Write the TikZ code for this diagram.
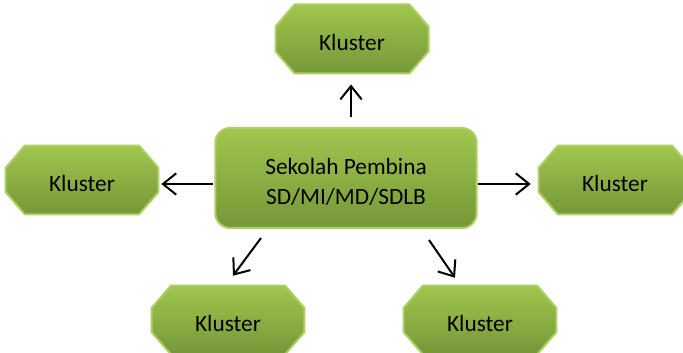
\documentclass[tikz,border=0pt]{standalone}
\usepackage{fontspec}
\setmainfont{Carlito}
\usetikzlibrary{arrows.meta,calc,backgrounds}

\definecolor{klTop}{RGB}{160,198,78}
\definecolor{klBot}{RGB}{118,151,56}
\definecolor{klRim}{RGB}{172,208,100}

\tikzset{every picture/.style={line width=0.75pt}}
\tikzset{
  kluster/.style={minimum width=114pt, minimum height=51pt, inner sep=0pt, text height=17pt,
    font=\fontsize{17.5}{21}\selectfont},
  klbody/.style={draw=klRim, line width=1.5pt, top color=klTop, bottom color=klBot},
  pembina/.style={klbody, rounded corners=11pt,
    minimum width=196pt, minimum height=75pt, align=center,
    font=\fontsize{17.5}{22}\selectfont},
  panah/.style={-{Straight Barb[length=10pt,width=16pt]}, line width=1.5pt}
}
% octagon behind a kluster node
\newcommand{\oktagon}[1]{%
  \begin{pgfonlayer}{background}
  \path [klbody] ($(#1.north west)+(19,0)$) -- ($(#1.north east)+(-19,0)$) -- ($(#1.north east)+(0,22)$)
    -- ($(#1.south east)+(0,-22)$) -- ($(#1.south east)+(-19,0)$) -- ($(#1.south west)+(19,0)$)
    -- ($(#1.south west)+(0,-22)$) -- ($(#1.north west)+(0,22)$) -- cycle ;
  \end{pgfonlayer}}

\begin{document}
\begin{tikzpicture}[x=0.75pt,y=0.75pt,yscale=-1,xscale=1]
\useasboundingbox (0,0) rectangle (683,353); %set diagram 683 x 353

%Rounded Rect [id:hub]
\node [pembina] (hub) at (346,178) {\rule{0pt}{18pt}Sekolah Pembina\\SD/MI/MD/SDLB};

%Shape: Octagon [id:kt]
\node [kluster] (kt) at (352,39) {Kluster};
\oktagon{kt}
%Shape: Octagon [id:kl]
\node [kluster] (kl) at (82,180) {Kluster};
\oktagon{kl}
%Shape: Octagon [id:kr]
\node [kluster] (kr) at (615,180) {Kluster};
\oktagon{kr}
%Shape: Octagon [id:kbl]
\node [kluster] (kbl) at (228,320) {Kluster};
\oktagon{kbl}
%Shape: Octagon [id:kbr]
\node [kluster] (kbr) at (480,320) {Kluster};
\oktagon{kbr}

%Straight Lines
\draw [panah] ($(hub.north)+(5,-10)$) -- ($(kt.south)+(-1,11)$) ;
\draw [panah] ($(hub.west)+(-1,6)$) -- ($(kl.east)+(3,4)$) ;
\draw [panah] ($(hub.east)+(0,6)$) -- ($(kr.west)+(-8,4)$) ;
\draw [panah] ($(hub.south)+(-85,9)$) -- ($(kbl.north)+(5,-10)$) ;
\draw [panah] ($(hub.south)+(83,11)$) -- ($(kbr.north)+(-25,-8)$) ;

\end{tikzpicture}
\end{document}
